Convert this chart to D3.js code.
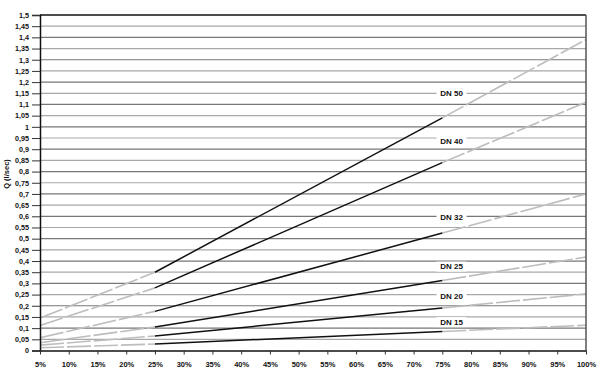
<!DOCTYPE html>
<html><head><meta charset="utf-8">
<script src="https://cdn.jsdelivr.net/npm/d3@7"></script>
<style>body{margin:0;background:#fff}svg{display:block;font-family:"Liberation Sans",Arial,sans-serif;font-weight:bold}</style>
</head><body><svg id="c" width="600" height="373"></svg>
<script>
// Opening (%) at which the curves were read
const openings = [5, 25, 75, 100];
const seriesNames = ["DN 50", "DN 40", "DN 32", "DN 25", "DN 20", "DN 15"];
const dn50 = [0.145, 0.35, 1.04, 1.39];
const dn40 = [0.112, 0.28, 0.84, 1.11];
const dn32 = [0.057, 0.175, 0.525, 0.70];
const dn25 = [0.035, 0.105, 0.313, 0.418];
const dn20 = [0.024, 0.065, 0.19, 0.253];
const dn15 = [0.012, 0.029, 0.085, 0.113];
const labelQ = [1.15, 0.935, 0.595, 0.375, 0.245, 0.127];
const labelOpening = 76.6;
const xTicks = d3.range(5, 101, 5);
const yTicks = d3.range(0, 31).map(i => +(i * 0.05).toFixed(2));
const yTitle = "Q (l/sec)";

const values = [dn50, dn40, dn32, dn25, dn20, dn15];
const svg = d3.select("#c");
const L = 40, R = 586, T = 15, B = 350.5;
const x = d3.scaleLinear().domain([5, 100]).range([L, R]);
const y = d3.scaleLinear().domain([0, 1.5]).range([B, T]);
const fmt = d => d3.format(",")(d).replace(".", ",");

// grid
svg.append("g").selectAll("line").data(yTicks.filter(d => d > 0 && d < 1.5)).join("line")
  .attr("x1", L).attr("x2", R).attr("y1", d => y(d)).attr("y2", d => y(d))
  .attr("stroke", (d, i) => i % 2 ? "#777" : "#a8a8a8").attr("stroke-width", 1.2);

// lines
const line = d3.line().x(d => x(d[0])).y(d => y(d[1]));
values.forEach(v => {
  const pts = openings.map((o, i) => [o, v[i]]);
  svg.append("path").attr("d", line(pts.slice(0, 2))).attr("fill", "none")
    .attr("stroke", "#bdbdbd").attr("stroke-width", 1.6).attr("stroke-dasharray", "24,3");
  svg.append("path").attr("d", line(pts.slice(2, 4))).attr("fill", "none")
    .attr("stroke", "#bdbdbd").attr("stroke-width", 1.6).attr("stroke-dasharray", "24,3");
  svg.append("path").attr("d", line(pts.slice(1, 3))).attr("fill", "none")
    .attr("stroke", "#111").attr("stroke-width", 1.5);
});

// labels
const lg = svg.append("g");
seriesNames.forEach((n, i) => {
  const cx = x(labelOpening), cy = y(labelQ[i]);
  lg.append("rect").attr("x", cx - 15).attr("y", cy - 5).attr("width", 30).attr("height", 10).attr("fill", "#fff");
  lg.append("text").attr("x", cx).attr("y", cy).attr("dy", "0.35em").attr("text-anchor", "middle")
    .attr("font-size", 8).attr("fill", "#111").text(n);
});

// frame
svg.append("line").attr("x1", L).attr("x2", R).attr("y1", T).attr("y2", T).attr("stroke", "#111").attr("stroke-width", 1.5);
svg.append("line").attr("x1", R).attr("x2", R).attr("y1", T).attr("y2", B).attr("stroke", "#555").attr("stroke-width", 1.5);

// axes
const ya = svg.append("g").attr("transform", `translate(${L},0)`)
  .call(d3.axisLeft(y).tickValues(yTicks).tickFormat(fmt).tickSize(8).tickPadding(3));
ya.select(".domain").attr("stroke", "#111").attr("stroke-width", 1.5);
ya.selectAll("line").attr("stroke", "#333");
ya.selectAll("text").attr("font-size", 7.2).attr("font-weight", "bold").attr("fill", "#111").attr("font-family", "Liberation Sans, Arial, sans-serif");

const xa = svg.append("g").attr("transform", `translate(0,${B})`)
  .call(d3.axisBottom(x).tickValues(xTicks).tickFormat(d => d + "%").tickSize(4).tickPadding(7).tickSizeOuter(0));
xa.select(".domain").attr("stroke", "#111").attr("stroke-width", 1.5);
xa.selectAll("line").attr("stroke", "#333");
xa.selectAll("text").attr("font-size", 7.5).attr("font-weight", "bold").attr("fill", "#111").attr("font-family", "Liberation Sans, Arial, sans-serif");

svg.append("text").attr("transform", "translate(9,174) rotate(-90)").attr("text-anchor", "middle")
  .attr("font-size", 7.5).attr("fill", "#111").text(yTitle);
</script></body></html>
